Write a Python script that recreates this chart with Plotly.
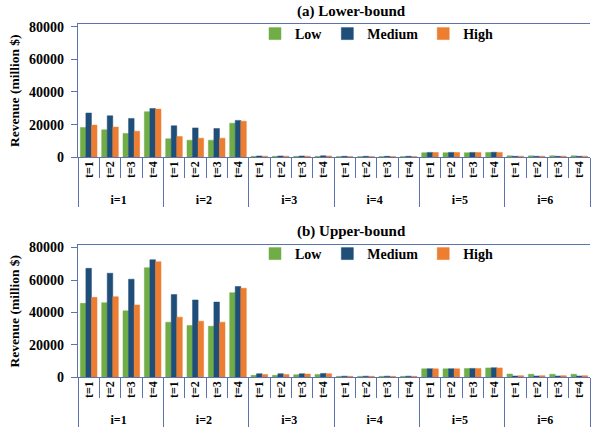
import plotly.graph_objects as go

# Regions (i) and periods (t) on the two-level category axis
regions = ["i=1", "i=2", "i=3", "i=4", "i=5", "i=6"]
periods = ["t=1", "t=2", "t=3", "t=4"]
scenarios = ["Low", "Medium", "High"]
colors = {"Low": "#70AD47", "Medium": "#1F4E79", "High": "#ED7D31"}

# Revenue (million $), listed region by region, t=1..4 within each region
lower_low = [18300, 16800, 14600, 27900, 11300, 10500, 10500, 20900,
             600, 600, 600, 600, 500, 500, 500, 500,
             2800, 2800, 2800, 2900, 900, 900, 900, 900]
lower_medium = [27100, 25400, 23800, 29900, 19300, 18000, 17600, 22600,
                800, 800, 800, 900, 600, 600, 600, 600,
                3000, 3000, 3000, 3100, 600, 600, 600, 600]
lower_high = [19700, 18500, 16000, 29500, 12700, 11700, 11700, 22100,
              700, 700, 700, 800, 500, 500, 500, 500,
              2900, 2900, 2900, 3000, 700, 700, 700, 700]

upper_low = [45600, 46000, 41000, 67600, 34000, 31900, 31500, 52200,
             1200, 1200, 1600, 1800, 600, 600, 600, 600,
             5200, 5200, 5400, 5800, 2000, 1900, 1900, 1900]
upper_medium = [67200, 64200, 60500, 72500, 51000, 47700, 46400, 56000,
                2200, 2200, 2200, 2400, 700, 700, 700, 700,
                5300, 5300, 5500, 5900, 800, 800, 800, 800]
upper_high = [49300, 49700, 44600, 71300, 37100, 34600, 34000, 54900,
              1800, 1800, 2000, 2200, 600, 600, 600, 600,
              5200, 5200, 5400, 5800, 1000, 1000, 1000, 1000]

y_ticks = [0, 20000, 40000, 60000, 80000]

x_outer = [r for r in regions for _ in periods]
x_inner = [t for _ in regions for t in periods]
x_multi = [x_outer, x_inner]

panels = [
    ("(a) Lower-bound", [lower_low, lower_medium, lower_high], "x", "y", "legend"),
    ("(b) Upper-bound", [upper_low, upper_medium, upper_high], "x2", "y2", "legend2"),
]

W, H = 597, 437
FONT = "Liberation Serif"
LINE = "#5B74AE"

fig = go.Figure()
for title, series, xa, ya, lg in panels:
    for name, vals in zip(scenarios, series):
        fig.add_trace(go.Bar(
            x=x_multi, y=vals, name=name, xaxis=xa, yaxis=ya, legend=lg,
            marker=dict(color=colors[name], line=dict(color=colors[name], width=0.5)),
        ))


def py(px):
    """Convert a pixel row (from the top) into a paper fraction."""
    return 1 - px / H


def px_(x):
    return x / W


x_dom = [px_(78), px_(590)]
y_dom_top = [py(157.3), py(24)]
y_dom_bot = [py(377.3), py(245)]

xaxis_style = dict(
    type="multicategory", domain=x_dom, showline=True, linecolor=LINE, linewidth=1.2,
    mirror=True, ticks="outside", ticklen=20, tickcolor=LINE, tickwidth=1.2,
    tickangle=-90, showgrid=False, dividercolor=LINE, dividerwidth=1.2,
    tickfont=dict(family=FONT, size=12, color="black", weight="bold"),
    ticklabelstandoff=-2, automargin=False,
)
yaxis_style = dict(
    range=[0, 81600], tickvals=y_ticks, showgrid=False, showline=True,
    linecolor=LINE, linewidth=1.2, ticks="outside", ticklen=6, tickcolor=LINE,
    tickformat="d", tickfont=dict(family=FONT, size=14, color="black", weight="bold"),
    title=dict(text="Revenue (million $)", standoff=6,
               font=dict(family=FONT, size=13.5, color="black", weight="bold")),
    zeroline=False, automargin=False, ticklabelstandoff=4,
)

legend_style = dict(
    orientation="h", xanchor="left", yanchor="top",
    font=dict(family=FONT, size=14, color="black", weight="bold"),
    itemwidth=30, tracegroupgap=0, bgcolor="rgba(0,0,0,0)",
)

fig.update_layout(
    width=W, height=H, margin=dict(l=0, r=0, t=0, b=0),
    paper_bgcolor="white", plot_bgcolor="white",
    barmode="group", bargap=0.22, bargroupgap=0.0,
    xaxis=dict(anchor="y", **xaxis_style),
    xaxis2=dict(anchor="y2", **xaxis_style),
    yaxis=dict(anchor="x", domain=y_dom_top, **yaxis_style),
    yaxis2=dict(anchor="x2", domain=y_dom_bot, **yaxis_style),
    legend=dict(x=px_(255), y=py(18), **legend_style),
    legend2=dict(x=px_(255), y=py(238), **legend_style),
    annotations=[
        dict(text="<b>" + panels[0][0] + "</b>", x=px_(351), y=py(11), xref="paper",
             yref="paper", yanchor="middle", showarrow=False,
             font=dict(family=FONT, size=15, color="black")),
        dict(text="<b>" + panels[1][0] + "</b>", x=px_(351), y=py(232), xref="paper",
             yref="paper", yanchor="middle", showarrow=False,
             font=dict(family=FONT, size=15, color="black")),
    ],
)

fig.write_html("out.html")
